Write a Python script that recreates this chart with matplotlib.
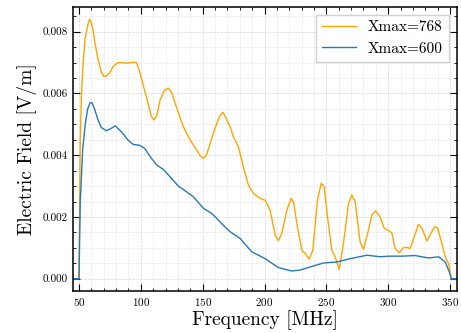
import numpy as np
import matplotlib
matplotlib.use('Agg')
import matplotlib.pyplot as plt
from matplotlib.ticker import MultipleLocator, FormatStrFormatter

plt.rcParams['font.family'] = 'serif'
plt.rcParams['font.serif'] = ['cmr10']
plt.rcParams['mathtext.fontset'] = 'cm'
plt.rcParams['axes.formatter.use_mathtext'] = True

# Xmax = 768 g/cm^2
freq_768 = [45, 50, 51, 52, 53, 55, 57, 58.5, 60, 61.5, 63, 65.4, 68, 70, 72, 75,
            77.5, 81.6, 85, 88.3, 93.7, 96.5, 99.1, 102, 104.5, 108.5, 110.7, 113,
            115.5, 119, 122.3, 125, 127.7, 131, 134.4, 139.8, 145.2, 148, 150.6,
            153, 156, 158.5, 161.4, 164, 166.5, 169.5, 172.2, 174.8, 178.9, 182.9,
            187, 191, 196.4, 200.5, 204.5, 208.6, 211.2, 214, 218, 221.5, 223.4,
            226.6, 230.2, 232.8, 236.1, 239, 242.8, 245.8, 248.2, 250.9, 254.4,
            257.1, 260.4, 263.8, 267.9, 270.6, 273.3, 277.3, 280, 284, 286.8, 289.7,
            293.5, 296.8, 300.2, 303, 305.6, 308.9, 312.4, 315.1, 317.8, 321, 324.5,
            327.3, 331.3, 334.5, 337.5, 339.9, 343.4, 346.1, 348.8, 351, 356]
field_768 = [0, 0, 0.0045, 0.0060, 0.0068, 0.0078, 0.0082, 0.0084, 0.0083, 0.0080,
             0.0076, 0.0071, 0.0067, 0.00655, 0.00656, 0.00668, 0.00687, 0.00700,
             0.00700, 0.00698, 0.00701, 0.00700, 0.0067, 0.00625, 0.00589, 0.00525,
             0.00514, 0.0053, 0.00579, 0.0061, 0.00617, 0.00602, 0.00568, 0.0053,
             0.00492, 0.00449, 0.00417, 0.00398, 0.00390, 0.00400, 0.00438, 0.0047,
             0.00503, 0.00528, 0.00539, 0.00514, 0.00492, 0.0046, 0.00427, 0.00362,
             0.00303, 0.00276, 0.0026, 0.00254, 0.00222, 0.00141, 0.00123, 0.00147,
             0.00222, 0.0026, 0.00249, 0.00168, 0.00092, 0.00082, 0.00063, 0.00092,
             0.00254, 0.00309, 0.00298, 0.0020, 0.00092, 0.00071, 0.0003, 0.00114,
             0.00244, 0.00271, 0.00249, 0.00119, 0.00095, 0.00157, 0.00206, 0.0022,
             0.0020, 0.00163, 0.00157, 0.00147, 0.00098, 0.00084, 0.00101, 0.00101,
             0.00098, 0.00135, 0.00176, 0.00163, 0.00122, 0.00147, 0.00168, 0.00165,
             0.00114, 0.00071, 0.00049, 0, 0]

# Xmax = 600 g/cm^2
freq_600 = [45, 50, 51, 53, 55, 57, 59, 60.5, 62.5, 65.4, 68, 72.1, 76.1, 79.4,
            84.2, 89.6, 93.7, 99.1, 103.1, 108.5, 112.9, 118.2, 123.6, 130.3,
            137.1, 142.5, 150.6, 157.4, 161.4, 166.7, 172.2, 180.3, 189.7, 200.5,
            211.2, 222, 228.8, 236.9, 247.7, 258.5, 269.3, 282.8, 293.5, 300.2, 311,
            321.8, 332.6, 340.7, 346.1, 349.4, 351, 356]
field_600 = [0, 0, 0.0025, 0.0042, 0.0050, 0.0055, 0.0057, 0.0057, 0.0055, 0.00514,
             0.0049, 0.00479, 0.00487, 0.00495, 0.00476, 0.00449, 0.00435, 0.00432,
             0.00422, 0.0039, 0.00368, 0.00354, 0.0033, 0.0030, 0.00281, 0.00265,
             0.00228, 0.00211, 0.00195, 0.00173, 0.00152, 0.0013, 0.00087, 0.00065,
             0.00036, 0.00025, 0.00028, 0.00038, 0.00051, 0.00054, 0.00065, 0.00076,
             0.00071, 0.00073, 0.00073, 0.00075, 0.00067, 0.00071, 0.00054, 0.00022,
             0, 0]

fig = plt.figure(figsize=(4.61, 3.33), dpi=100)
ax = fig.add_axes([0.158, 0.126, 0.833, 0.853])

ax.plot(freq_768, field_768, color='orange', linewidth=1.0, label='Xmax=768')
ax.plot(freq_600, field_600, color='#2878b8', linewidth=1.0, label='Xmax=600')

ax.set_xlim(45, 355.5)
ax.set_ylim(-0.0004, 0.0088)
ax.xaxis.set_major_locator(MultipleLocator(50))
ax.xaxis.set_minor_locator(MultipleLocator(10))
ax.yaxis.set_major_locator(MultipleLocator(0.002))
ax.yaxis.set_minor_locator(MultipleLocator(0.0005))
ax.yaxis.set_major_formatter(FormatStrFormatter('%.3f'))

ax.tick_params(which='both', direction='in', top=True, right=True, labelsize=8)
ax.tick_params(which='major', length=5, width=0.8)
ax.tick_params(which='minor', length=2.5, width=0.6)
for s in ax.spines.values():
    s.set_linewidth(1.1)

ax.grid(which='major', color='#d8d8d8', linewidth=0.5, linestyle='--')
ax.grid(which='minor', color='#e6e6e6', linewidth=0.5, linestyle='--')
ax.set_axisbelow(True)

ax.set_xlabel('Frequency [MHz]', fontsize=14, labelpad=2)
ax.set_ylabel('Electric Field [V/m]', fontsize=14, labelpad=4)

ax.legend(loc='upper right', fontsize=11, handlelength=2.2, borderaxespad=0.5,
          fancybox=False, edgecolor='#cccccc', framealpha=0.9)

fig.savefig('out.png', dpi=100)
